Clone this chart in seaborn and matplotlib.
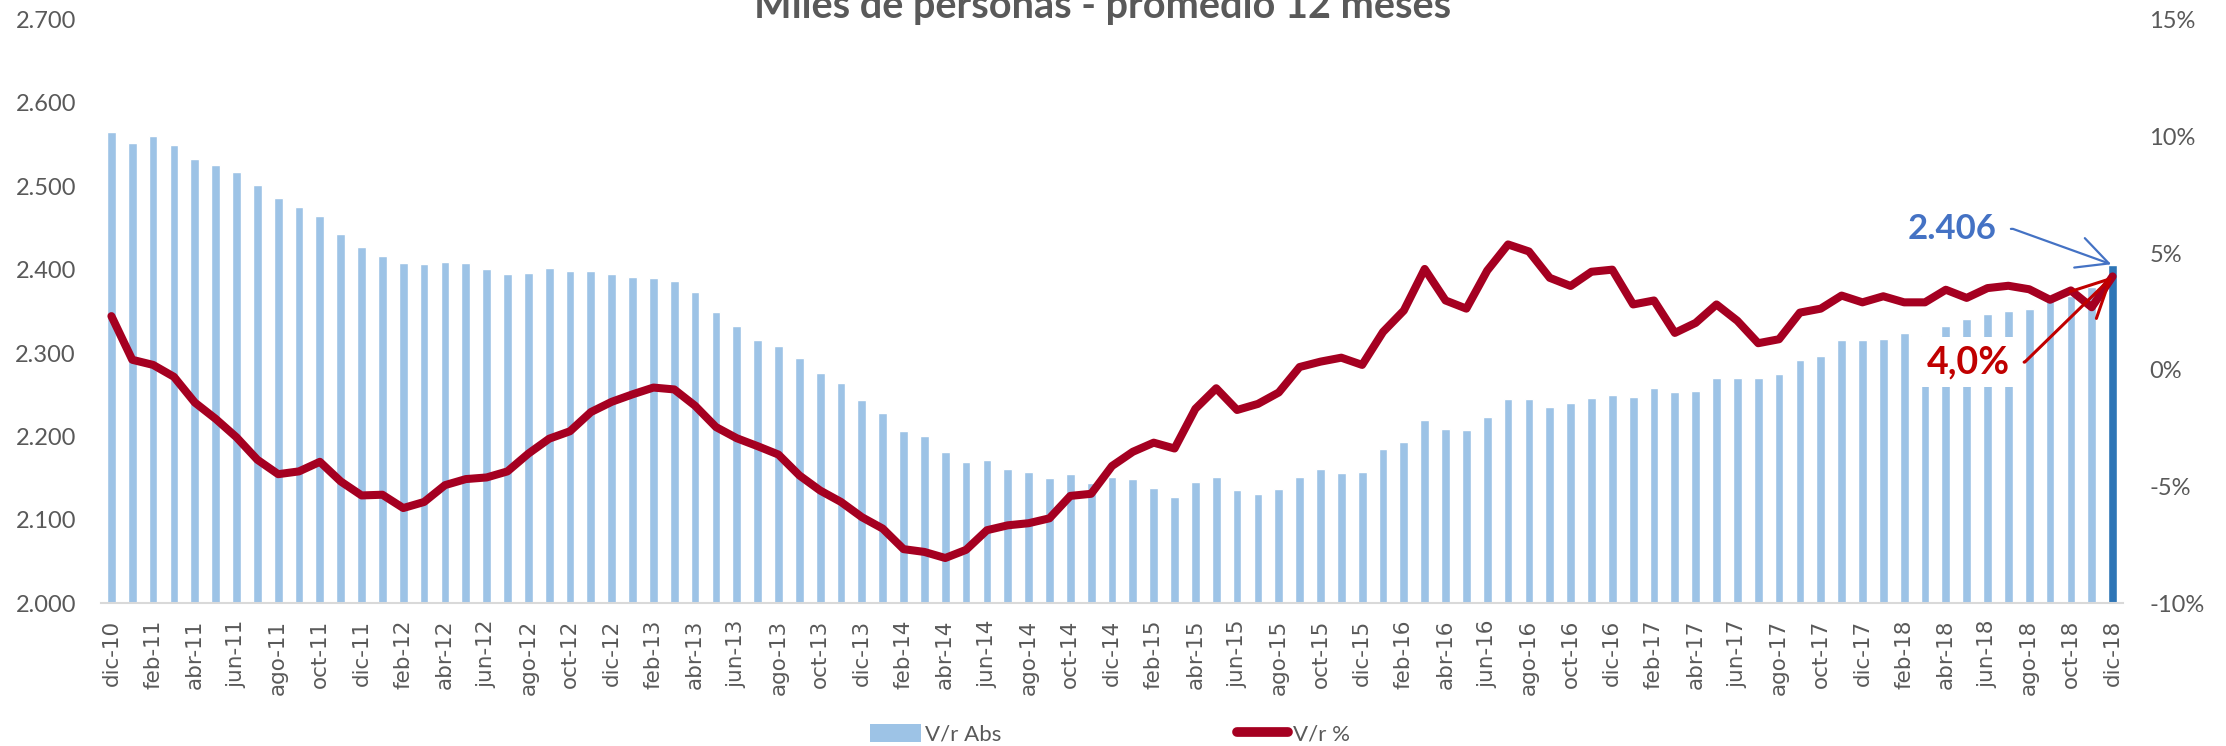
import numpy as np
import pandas as pd
import matplotlib
matplotlib.use("Agg")
import matplotlib.pyplot as plt
from matplotlib.ticker import FuncFormatter
from matplotlib.patches import Patch
from matplotlib.lines import Line2D
import seaborn as sns

# ---------------- data ----------------
meses = ['ene', 'feb', 'mar', 'abr', 'may', 'jun', 'jul', 'ago', 'sep', 'oct', 'nov', 'dic']
periodos = ['dic-10'] + [f"{m}-{a}" for a in range(11, 19) for m in meses]

abs_vals = [
    2565, 2552, 2560, 2550, 2533, 2526, 2517, 2502, 2486, 2475, 2464, 2443,
    2427, 2416, 2408, 2407, 2409, 2408, 2401, 2395, 2396, 2402, 2399, 2399,
    2395, 2391, 2390, 2387, 2373, 2349, 2332, 2316, 2309, 2294, 2276, 2264,
    2244, 2228, 2207, 2201, 2182, 2169, 2172, 2161, 2158, 2150, 2155, 2144,
    2152, 2149, 2138, 2127, 2145, 2152, 2136, 2131, 2137, 2152, 2161, 2156,
    2157, 2185, 2193, 2220, 2209, 2208, 2224, 2245, 2245, 2236, 2240, 2246,
    2250, 2247, 2258, 2254, 2255, 2270, 2270, 2270, 2275, 2292, 2297, 2316,
    2316, 2317, 2324, 2320, 2332, 2341, 2347, 2351, 2353, 2364, 2368, 2379,
    2406,
]

pct_vals = [
    2.3, 0.43, 0.21, -0.30, -1.40, -2.10, -2.89, -3.85, -4.47, -4.35, -3.94, -4.78,
    -5.38, -5.35, -5.92, -5.66, -4.94, -4.68, -4.61, -4.35, -3.59, -2.95, -2.63, -1.81,
    -1.37, -1.05, -0.76, -0.84, -1.54, -2.45, -2.93, -3.27, -3.63, -4.52, -5.17, -5.66,
    -6.31, -6.80, -7.68, -7.80, -8.06, -7.71, -6.87, -6.66, -6.57, -6.36, -5.40, -5.31,
    -4.12, -3.51, -3.12, -3.37, -1.67, -0.79, -1.72, -1.46, -0.97, 0.12, 0.35, 0.52,
    0.21, 1.62, 2.54, 4.32, 2.97, 2.62, 4.25, 5.37, 5.07, 3.94, 3.59, 4.20,
    4.29, 2.80, 2.97, 1.58, 2.01, 2.80, 2.10, 1.14, 1.31, 2.45, 2.62, 3.18,
    2.89, 3.15, 2.89, 2.89, 3.43, 3.08, 3.50, 3.60, 3.45, 3.00, 3.40, 2.68,
    4.0,
]

titulo = "Miles de personas - promedio 12 meses"
serie_abs = "V/r Abs"
serie_pct = "V/r %"

df = pd.DataFrame({"periodo": periodos, "abs": abs_vals, "pct": pct_vals})
n = len(df)

# ---------------- style ----------------
sns.set_theme(style="white")
plt.rcParams['font.family'] = ['Lato', 'DejaVu Sans']

GREY = '#595959'
BAR = '#9DC3E6'
BAR_LAST = '#2E75B6'
LINE = '#A50021'

W, H = 2226, 746
fig = plt.figure(figsize=(W / 100, H / 100), dpi=100)
ax = fig.add_axes([101 / W, (H - 603.3) / H, (2123 - 101) / W, (603.3 - 19.6) / H])

sns.barplot(data=df, x="periodo", y="abs", ax=ax, color=BAR, saturation=1,
            width=0.42, errorbar=None)
ax.patches[-1].set_facecolor(BAR_LAST)

ax.set_ylim(2000, 2700)
ax.set_xlim(-0.5, n - 0.5)
ax.set_xlabel("")
ax.set_ylabel("")
ax.set_yticks(np.arange(2000, 2701, 100))
ax.yaxis.set_major_formatter(FuncFormatter(lambda v, p: f"{v:,.0f}".replace(",", ".")))
ax.set_xticks(np.arange(0, n, 2))
ax.set_xticklabels(df["periodo"].iloc[::2], rotation=90, family='DejaVu Sans',
                   fontsize=15.5, color=GREY)
ax.tick_params(axis='x', length=0, pad=12)
ax.tick_params(axis='y', length=0, pad=18, labelsize=17, labelcolor=GREY)
for s in ['top', 'left', 'right']:
    ax.spines[s].set_visible(False)
ax.spines['bottom'].set_color('#D9D9D9')
ax.spines['bottom'].set_linewidth(1.5)

ax2 = ax.twinx()
sns.lineplot(x=np.arange(n), y=df["pct"].values, ax=ax2, color=LINE, linewidth=5.8)
ax2.lines[-1].set_solid_joinstyle('round')
ax2.set_ylim(-10, 15)
ax2.set_yticks(np.arange(-10, 16, 5))
ax2.yaxis.set_major_formatter(FuncFormatter(lambda v, p: f"{v:.0f}%"))
ax2.tick_params(axis='y', length=0, pad=19, labelsize=17, labelcolor=GREY)
for s in ax2.spines.values():
    s.set_visible(False)
ax2.set_xlim(-0.5, n - 0.5)

# ---------------- annotations ----------------
ax.annotate(f"{abs_vals[-1]:,}".replace(",", "."), xy=(n - 1, abs_vals[-1]),
            xytext=(n - 8.7, 2449), ha='center', va='center', fontsize=25,
            fontweight='bold', color='#4472C4',
            arrowprops=dict(arrowstyle='->,head_length=0.9,head_width=0.45',
                            color='#4472C4', lw=1.6, shrinkA=8, shrinkB=1,
                            connectionstyle='angle,angleA=0,angleB=-19.8,rad=0'))

ax2.annotate(f"{pct_vals[-1]:.1f}%".replace(".", ","), xy=(n - 1, pct_vals[-1]),
             xytext=(n - 7.9, 0.33), ha='center', va='center', fontsize=27,
             fontweight='bold', color='#C00000',
             bbox=dict(boxstyle='square,pad=0.22', fc='white', ec='none'),
             arrowprops=dict(arrowstyle='->,head_length=1.0,head_width=0.5',
                             color='#C00000', lw=2.2, shrinkA=4, shrinkB=0,
                             connectionstyle='angle,angleA=0,angleB=44.3,rad=0'))

# ---------------- title & legend ----------------
fig.text(0.4955, (H - 18.4) / H, titulo, ha='center', va='baseline', fontsize=28.5,
         fontweight='bold', color=GREY)

handles = [Patch(facecolor=BAR, edgecolor='none'),
           Line2D([0], [0], color=LINE, lw=7, solid_capstyle='round')]
leg = fig.legend(handles, [serie_abs, serie_pct], loc='center', ncol=2,
                 bbox_to_anchor=(0.4985, 12 / H), frameon=False, fontsize=16,
                 handlelength=2.3, handletextpad=0.2, columnspacing=10.6,
                 handleheight=0.9)
for t in leg.get_texts():
    t.set_color(GREY)

fig.savefig("out.png", dpi=100)
